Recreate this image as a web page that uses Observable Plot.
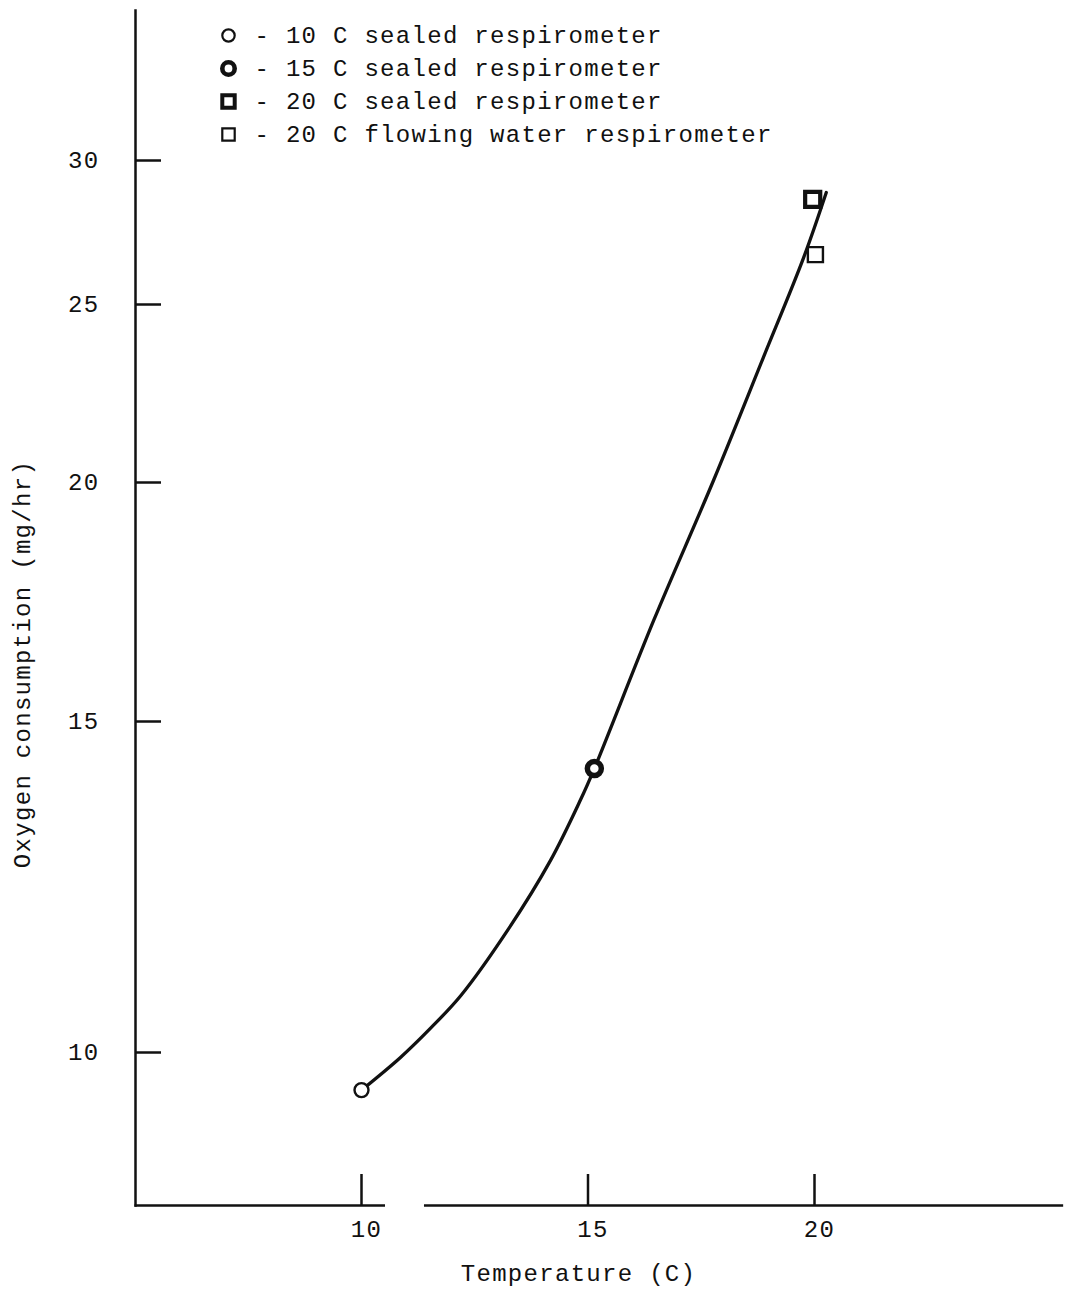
<!DOCTYPE html>
<html><head><meta charset="utf-8">
<script src="https://cdn.jsdelivr.net/npm/d3@7"></script>
<script src="https://cdn.jsdelivr.net/npm/@observablehq/plot@0.6"></script>
<style>
body{margin:0;background:#fff}
#chart svg{display:block}
#chart svg text{letter-spacing:1.3px}
</style>
</head><body><div id="chart"></div>
<script>
// ---- data ----
const curveTemp = [10, 10.86, 11.52, 12.19, 13.22, 14.17, 14.83, 15.14, 16.45, 17.77, 18.87, 19.76, 20.26];
const curveO2   = [9.55, 9.94, 10.30, 10.72, 11.61, 12.65, 13.62, 14.16, 16.94, 20.05, 23.39, 26.53, 28.81];
const pointTemp = [10, 15.14, 19.96, 20.02];
const pointO2   = [9.55, 14.16, 28.56, 26.63];
const pointKind = ["10 C sealed respirometer", "15 C sealed respirometer", "20 C sealed respirometer", "20 C flowing water respirometer"];
const xTicks = [10, 15, 20];
const yTicks = [10, 15, 20, 25, 30];
const xAxisSegments = [[5.0, 10.53], [11.39, 25.5]];
const xLabel = "Temperature (C)";
const yLabel = "Oxygen consumption (mg/hr)";

// ---- styles ----
const markerStyle = [
  {symbol: "circle", r: 7, strokeWidth: 2.4, lr: 6.2, lsw: 2.2},
  {symbol: "circle", r: 7, strokeWidth: 5.5, lr: 6.2, lsw: 4.6},
  {symbol: "square", r: 8.5, strokeWidth: 4.2, lr: 7, lsw: 4},
  {symbol: "square", r: 8.5, strokeWidth: 2.4, lr: 7, lsw: 2.2}
];
const ink = "#111";
const W = 1065, H = 1292, mL = 135, mT = 10, mR = 0, mB = 87;

const xOpts = {domain: [10, 20], range: [361, 814]};
const yOpts = {type: "log", domain: yTicks, range: [1052, 721, 482, 304, 160]};
const yBase = Plot.scale({y: yOpts}).invert(H - mB);

const curve = curveTemp.map((t, i) => ({t, o: curveO2[i]}));
const points = pointTemp.map((t, i) => ({t, o: pointO2[i], k: i}));

const pointMarks = points.map(p => {
  const s = markerStyle[p.k];
  return Plot.dot([p], {x: "t", y: "o", symbol: s.symbol, r: s.r, stroke: ink, strokeWidth: s.strokeWidth, fill: "white"});
});

const legendMarks = pointKind.flatMap((label, i) => {
  const s = markerStyle[i];
  const dy = 25 + 33 * i;
  return [
    Plot.dot([label], {frameAnchor: "top-left", dx: 93, dy, symbol: s.symbol, r: s.lr, stroke: ink, strokeWidth: s.lsw, fill: "white"}),
    Plot.text([label], {frameAnchor: "top-left", dx: 119, dy, text: d => "- " + d, textAnchor: "start", lineAnchor: "middle", fill: ink})
  ];
});

const chart = Plot.plot({
  width: W, height: H,
  marginLeft: mL, marginTop: mT, marginRight: mR, marginBottom: mB,
  x: {...xOpts, label: null},
  y: {...yOpts, label: null},
  style: {fontFamily: "'Liberation Mono', 'DejaVu Sans Mono', monospace", fontSize: "24px", color: ink, background: "white"},
  marks: [
    Plot.frame({anchor: "left", stroke: ink, strokeWidth: 2.5}),
    Plot.ruleY(xAxisSegments, {y: () => yBase, x1: d => d[0], x2: d => d[1], stroke: ink, strokeWidth: 2.5}),
    Plot.axisY({ticks: yTicks, tickSize: -26, tickPadding: 62, tickFormat: d => String(d), stroke: ink, strokeWidth: 2.5, fill: ink, label: null}),
    Plot.axisX({ticks: xTicks, tickSize: -31, tickFormat: () => "", stroke: ink, strokeWidth: 2.5, label: null}),
    Plot.axisX({ticks: xTicks, tickSize: 0, tickPadding: 14, dx: 5, tickFormat: d => String(d), fill: ink, label: null}),
    Plot.line(curve, {x: "t", y: "o", curve: "catmull-rom", stroke: ink, strokeWidth: 3.3}),
    ...pointMarks,
    ...legendMarks,
    Plot.text([yLabel], {frameAnchor: "left", rotate: -90, dx: -113, dy: 56, text: d => d, textAnchor: "middle", lineAnchor: "middle", fill: ink}),
    Plot.text([xLabel], {frameAnchor: "bottom", dx: -22, dy: 68, text: d => d, textAnchor: "middle", lineAnchor: "middle", fill: ink})
  ]
});
document.getElementById("chart").appendChild(chart);
</script>
</body></html>
